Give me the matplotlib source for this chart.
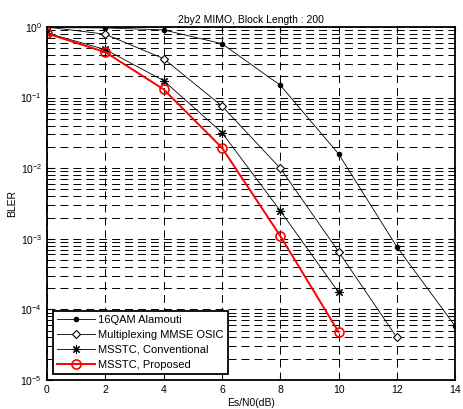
import numpy as np
import matplotlib.pyplot as plt
from matplotlib.ticker import LogLocator, FixedLocator

plt.rcParams['font.family'] = ['Liberation Sans', 'DejaVu Sans']

# Es/N0 in dB
snr_alamouti = [0, 2, 4, 6, 8, 10, 12, 14]
bler_alamouti = [0.98, 0.97, 0.91, 0.58, 0.15, 0.016, 7.7e-4, 5.8e-5]

snr_mux = [0, 2, 4, 6, 8, 10, 12]
bler_mux = [1.0, 0.79, 0.356, 0.076, 0.0100, 6.6e-4, 4.0e-5]

snr_conv = [0, 2, 4, 6, 8, 10]
bler_conv = [0.82, 0.48, 0.174, 0.032, 2.5e-3, 1.75e-4]

snr_prop = [0, 2, 4, 6, 8, 10]
bler_prop = [0.81, 0.44, 0.131, 0.0195, 1.1e-3, 4.8e-5]

fig = plt.figure(figsize=(4.63, 4.09), dpi=100)
ax = fig.add_axes([0.1015, 0.071, 0.8815, 0.863])

ax.semilogy(snr_alamouti, bler_alamouti, 'k-', marker='o', markersize=3,
            linewidth=0.6, label='16QAM Alamouti')
ax.semilogy(snr_mux, bler_mux, 'k-', marker='D', markersize=4.5, markerfacecolor='white',
            markeredgewidth=0.8, linewidth=0.6, label='Multiplexing MMSE OSIC')
ax.semilogy(snr_conv, bler_conv, 'k-', marker=(8, 2, 0), markersize=6,
            markeredgewidth=0.8, linewidth=0.6, label='MSSTC, Conventional')
ax.semilogy(snr_prop, bler_prop, 'r-', marker='o', markersize=6.5, markerfacecolor='none',
            markeredgewidth=1.2, linewidth=1.4, label='MSSTC, Proposed')

ax.set_xlim(0, 14)
ax.set_ylim(1e-5, 1)
ax.xaxis.set_major_locator(FixedLocator(np.arange(0, 15, 2)))
ax.yaxis.set_major_locator(LogLocator(base=10, numticks=10))
ax.yaxis.set_minor_locator(LogLocator(base=10, subs=np.arange(2, 10), numticks=20))

dash = (0, (8.2, 5.1))
ax.grid(True, which='major', axis='both', color='k', linestyle=dash, linewidth=0.7)
ax.grid(True, which='minor', axis='y', color='k', linestyle=dash, linewidth=0.7)

ax.tick_params(which='both', direction='in', labelsize=7.5, top=True, right=True)
ax.tick_params(which='minor', length=2)
ax.tick_params(which='major', length=4)
for s in ax.spines.values():
    s.set_linewidth(1.3)

ax.set_title('2by2 MIMO, Block Length : 200', fontsize=7.5, pad=3)
ax.set_xlabel('Es/N0(dB)', fontsize=7.5, labelpad=2)
ax.set_ylabel('BLER', fontsize=7.5, labelpad=2)

leg = ax.legend(loc='lower left', fontsize=8, fancybox=False, framealpha=1,
                borderaxespad=0.5, handlelength=3.4, handletextpad=0.3,
                labelspacing=0.45, borderpad=0.4)
leg.get_frame().set_edgecolor('k')
leg.get_frame().set_linewidth(1.3)

fig.savefig('out.png', dpi=100)
